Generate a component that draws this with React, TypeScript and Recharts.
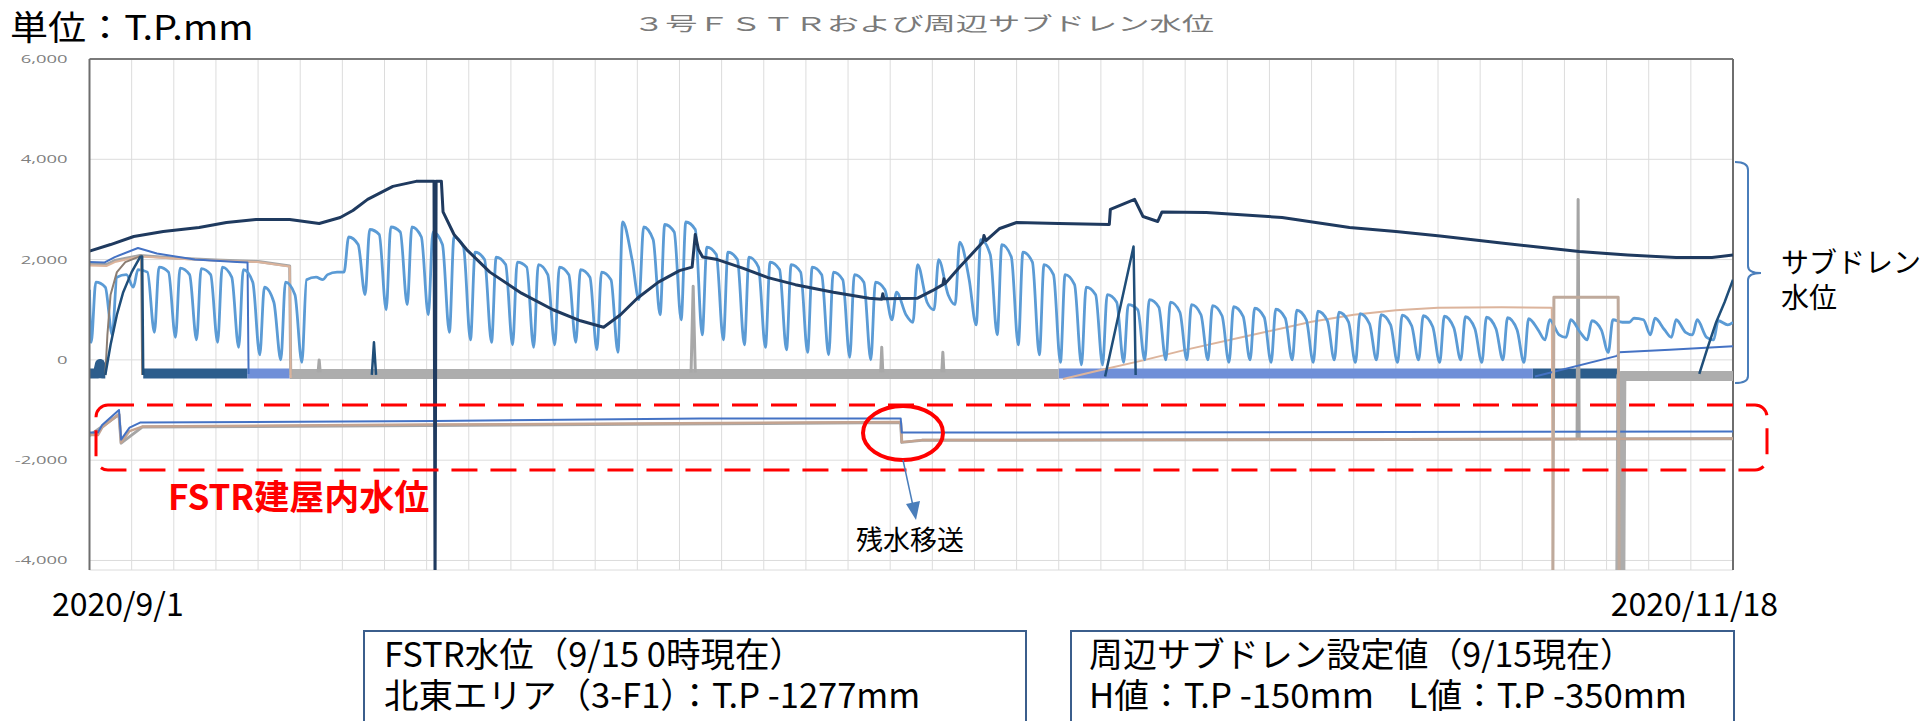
import React from 'react';
import { LineChart, Line, XAxis, YAxis, CartesianGrid, ReferenceLine } from 'recharts';

type Pt = [number, number | null];

// x = days since 2020/9/1, y = T.P. mm
const X_TICKS = Array.from({ length: 40 }, (_, i) => i * 2);
const Y_TICKS = [-4000, -2000, 0, 2000, 4000, 6000];

// top dark navy subdrain
const NAVY_TOP: Pt[] = [
  [0, 2170], [1, 2300], [2.1, 2460], [3.5, 2560], [5.2, 2640], [6.5, 2740], [7.9, 2800], [9.5, 2800],
  [10.9, 2720], [11.9, 2840], [12.5, 2980], [13.2, 3200], [14.4, 3460], [15.5, 3560], [16.35, 3560],
  [16.4, -4600], [16.45, 3560], [16.7, 3560], [16.78, 2950], [17.3, 2500], [17.9, 2200], [19.0, 1750],
  [20.5, 1330], [22.0, 1000], [23.3, 780], [24.4, 650], [25.2, 900], [26.0, 1230], [27.0, 1550],
  [28.0, 1780], [28.6, 1850], [28.75, 2500], [28.9, 2200], [29.1, 2050], [29.8, 2000], [31, 1830],
  [32.2, 1640], [33.5, 1500], [35.3, 1350], [37, 1230], [37.6, 1210], [37.65, 1320], [37.7, 1220],
  [39.3, 1230], [40.0, 1380], [40.5, 1500], [40.55, 1620], [40.6, 1520], [41.3, 1850], [42.4, 2350],
  [42.45, 2480], [42.55, 2380], [43.2, 2620], [44.0, 2740], [46, 2720], [48.4, 2700], [48.45, 3000],
  [49.6, 3200], [50.0, 2860], [50.7, 2760], [50.9, 2950], [53.0, 2940], [56.6, 2840], [59.8, 2640],
  [62, 2560], [64.1, 2470], [67, 2330], [70.7, 2160], [73, 2090], [75.3, 2040], [77, 2040], [78, 2090],
];

// light blue daily cycles: trough, peak, shoulder per day
const LB_TROUGH = [
  350, 500, 1450, 550, 450, 400, 350, 250, 100, 0, -50, 1600, 1750, 1300, 1000, 1100, 900, 550, 400, 350,
  300, 250, 300, 350, 200, 150, 1200, 900, 800, 500, 400, 300, 250, 200, 150, 100, 50, 0, 800, 750,
  1000, 1100, 700, 500, 300, 100, -50, -100, -100, -50, 0, 0, 0, 0, -50, 0, -50, 0, -50, 0,
  -50, 0, -50, 0, -50, 0, -50, 0, -50, 400, 450, 400, 150, 750, 500, 450, 500, 400,
];
const LB_PEAK = [
  1550, 1650, 1800, 1850, 1830, 1820, 1850, 1800, 1450, 1550, 1600, 1700, 2450, 2600, 2650, 2650, 2550, 2450, 2150, 2050,
  1950, 1900, 1850, 1800, 1750, 2750, 2650, 2700, 2750, 2250, 2150, 2050, 1950, 1900, 1850, 1750, 1700, 1550, 1350, 1900,
  2000, 2350, 2400, 2300, 2150, 1900, 1700, 1450, 1300, 1100, 1200, 1150, 1100, 1080, 1060, 1030, 1010, 990, 970, 950,
  920, 900, 890, 880, 870, 860, 850, 840, 820, 800, 800, 780, 800, 830, 830, 800, 800, 780,
];
const LB_SHOULDER = [
  1450, 1700, 1750, 1750, 1700, 1700, 1650, 1550, 1150, 1300, 1650, 1750, 2300, 2500, 2550, 2450, 2300, 2250, 2000, 1900,
  1850, 1700, 1700, 1650, 1600, 2000, 2400, 2550, 2600, 2100, 2000, 1850, 1800, 1750, 1700, 1600, 1550, 1400, 900, 1150,
  1300, 1600, 2100, 2050, 1950, 1700, 1500, 1300, 1150, 1000, 1050, 950, 900, 880, 870, 850, 830, 800, 780, 760,
  720, 700, 680, 660, 640, 620, 620, 600, 600, 500, 550, 600, 750, 800, 600, 550, 450, 700,
];

const MID_BLUE: Pt[] = [
  [0, 1950], [0.7, 1940], [1.2, 2050], [2.3, 2230], [3.2, 2120], [5, 2000], [7.0, 1950], [7.5, 1940], [7.55, -280],
  [7.6, null],
  [68.6, -330], [72.5, 80], [72.6, 150], [75, 200], [78, 270],
];

const GRAY_START: Pt[] = [
  [0, 1920], [0.8, 1900], [1.2, 1980], [2.4, 2080], [4, 2030], [6, 1990], [8, 1960], [9.5, 1870], [9.55, -300],
];

const PEACH: Pt[] = [
  [0, 1880], [0.8, 1870], [1.2, 1950], [2.4, 2060], [4, 2020], [6, 1980], [8, 1950], [9.5, 1860], [9.55, -360],
  [9.6, null],
  [46.2, -380], [48, -200], [50, -10], [52, 200], [55, 480], [58, 760], [60, 900], [62, 990], [64, 1040],
  [67, 1050], [69.4, 1040], [69.45, -4600],
];

const TAN_RECT: Pt[] = [[69.45, -4600], [69.5, 1250], [72.55, 1250], [72.6, -4600]];

const BROWN_START: Pt[] = [
  [0.75, -300], [0.85, 500], [1.0, 1300], [1.3, 1750], [1.7, 1950], [2.3, 2050], [2.45, 2080], [2.5, -300],
];

const NAVY_2: Pt[] = [
  [0.75, -300], [1.0, 300], [1.3, 900], [1.6, 1350], [2.0, 1750], [2.4, 2050], [2.5, 2060], [2.55, -300],
  [2.6, null],
  [13.4, -300], [13.5, 350], [13.6, -300],
  [13.7, null],
  [48.2, -330], [49.55, 2260], [49.65, -300],
  [49.7, null],
  [76.4, -280], [76.8, 250], [77.2, 750], [77.6, 1150], [78, 1600],
];

const DARK_BAND: Pt[] = [
  [0, -270], [0.4, -270], [0.5, -80], [0.6, -270], [0.75, -270], [0.8, null],
  [2.55, -270], [7.5, -270], [7.6, null],
  [68.5, -270], [72.6, -270],
];
const PERI_BAND: Pt[] = [[7.5, -270], [9.5, -270], [9.6, null], [46.0, -270], [68.5, -270]];
const GRAY_BAND: Pt[] = [[9.5, -280], [46.0, -280], [46.1, null], [72.65, -4600], [72.7, -320], [78, -320]];
const GRAY_SPIKES: Pt[] = [
  [10.85, -250], [10.9, 0], [10.95, -250], [11, null],
  [28.55, -250], [28.65, 1470], [28.75, -250], [28.8, null],
  [37.55, -250], [37.6, 250], [37.65, -250], [37.7, null],
  [40.45, -250], [40.5, 150], [40.55, -250],
];

// FSTR building water levels
const FSTR_BLUE: Pt[] = [
  [0, -1450], [0.4, -1450], [0.6, -1300], [1.4, -1000], [1.5, -1590], [1.9, -1350], [2.4, -1250],
  [16.4, -1220], [29, -1170], [38.5, -1170], [38.55, -1450], [78, -1430],
];
const FSTR_TAN: Pt[] = [
  [0, -1500], [0.4, -1500], [0.6, -1350], [1.4, -1080], [1.5, -1650], [1.9, -1420], [2.5, -1330],
  [16, -1290], [38.5, -1240], [38.55, -1640], [39.5, -1600], [78, -1570],
];
const FSTR_GRAY: Pt[] = [
  [0, -1510], [1.4, -1090], [1.5, -1660], [2.5, -1340], [38.5, -1250], [38.55, -1645], [39.5, -1605],
  [70.6, -1580], [70.65, 3200], [70.7, -1580], [78, -1575],
];

const toData = (pts: Pt[]) => pts.map(([x, y]) => ({ x, y }));

function buildLightBlue(): Pt[] {
  const out: Pt[] = [[0, 1400]];
  LB_TROUGH.forEach((t, d) => {
    out.push([d + 0.08, t], [d + 0.3, LB_PEAK[d]], [d + 0.75, LB_SHOULDER[d]]);
  });
  out.push([78, 750]);
  return out;
}

const SERIES = [
  { key: 'darkBand', pts: DARK_BAND, color: '#2c5d8c', w: 10 },
  { key: 'periBand', pts: PERI_BAND, color: '#6f8fd8', w: 10 },
  { key: 'grayBand', pts: GRAY_BAND, color: '#adadad', w: 10 },
  { key: 'graySpikes', pts: GRAY_SPIKES, color: '#a8a8a8', w: 3 },
  { key: 'fstrGray', pts: FSTR_GRAY, color: '#a5a5a5', w: 3 },
  { key: 'fstrTan', pts: FSTR_TAN, color: '#c4a491', w: 2.5 },
  { key: 'fstrBlue', pts: FSTR_BLUE, color: '#4472c4', w: 2 },
  { key: 'grayStart', pts: GRAY_START, color: '#a5a5a5', w: 3 },
  { key: 'peach', pts: PEACH, color: '#dcb49c', w: 2 },
  { key: 'midBlue', pts: MID_BLUE, color: '#4472c4', w: 2 },
  { key: 'lightBlue', pts: buildLightBlue(), color: '#5b9bd5', w: 2.8, curve: 'monotone' },
  { key: 'brown', pts: BROWN_START, color: '#8b7d72', w: 2 },
  { key: 'navy2', pts: NAVY_2, color: '#1f4e79', w: 2.5 },
  { key: 'navyTop', pts: NAVY_TOP, color: '#1f3a5f', w: 3 },
  { key: 'tanRect', pts: TAN_RECT, color: '#bfaa9c', w: 3 },
];

const FONT = "'Noto Sans CJK JP', 'Noto Sans', sans-serif";

const YTick = (props: any) => {
  const { x, y, payload } = props;
  return (
    <g transform={`translate(${x},${y}) scale(1.6,1)`}>
      <text x={0} y={0} dy={4} textAnchor="end" fill="#808080" fontSize={11.5} fontFamily="'Open Sans', sans-serif">
        {payload.value.toLocaleString('en-US')}
      </text>
    </g>
  );
};

export default function App() {
  return (
    <div style={{ position: 'absolute', left: 0, top: 0, width: 1923, height: 721, overflow: 'hidden', background: '#fff' }}>
      <LineChart width={1923} height={721} margin={{ top: 59, right: 190, bottom: 151, left: 0 }}>
        <CartesianGrid stroke="#dcdcdc" strokeWidth={1} />
        <XAxis type="number" dataKey="x" domain={[0, 78]} ticks={X_TICKS} allowDataOverflow hide />
        <YAxis
          type="number"
          domain={[-4190, 6000]}
          ticks={Y_TICKS}
          allowDataOverflow
          width={89.5}
          tickSize={0}
          tickMargin={22}
          tick={<YTick />}
          axisLine={{ stroke: '#6e6e6e', strokeWidth: 2 }}
        />
        <ReferenceLine y={6000} stroke="#7a7a7a" strokeWidth={2} />
        <ReferenceLine x={78} stroke="#6e6e6e" strokeWidth={2} />
        {SERIES.map((s) => (
          <Line
            key={s.key}
            data={toData(s.pts)}
            dataKey="y"
            type={(s as any).curve || 'linear'}
            stroke={s.color}
            strokeWidth={s.w}
            dot={false}
            activeDot={false}
            connectNulls={false}
            strokeLinejoin="round"
            isAnimationActive={false}
          />
        ))}
      </LineChart>

      {/* annotations */}
      <svg width={1923} height={721} style={{ position: 'absolute', left: 0, top: 0, pointerEvents: 'none' }}>
        <g transform="translate(10,40) scale(1.12,1)">
          <text x={0} y={0} fontSize={34} fontFamily={FONT} fill="#000">単位：T.P.mm</text>
        </g>
        <g transform="translate(633,31) scale(1.7,1)">
          <text x={0} y={0} fontSize={19} fontFamily={FONT} fill="#7a7a7a">３号ＦＳＴＲおよび周辺サブドレン水位</text>
        </g>

        {/* bracket for subdrain */}
        <path
          d="M1735,162 Q1748,162 1748,170 L1748,266 Q1748,273 1761,273 Q1748,273 1748,280 L1748,376 Q1748,383 1735,383"
          fill="none"
          stroke="#4a7ebb"
          strokeWidth={2}
        />
        <text x={1781} y={273} fontSize={28} fontFamily={FONT} fill="#000">サブドレン</text>
        <text x={1781} y={308} fontSize={28} fontFamily={FONT} fill="#000">水位</text>

        {/* FSTR dashed frame */}
        <rect x={96} y={405} width={1671} height={65} rx={12} ry={12} fill="none" stroke="#ff0000" strokeWidth={3} strokeDasharray="26 13" />
        <text x={168} y={510} fontSize={35} fontWeight={700} fontFamily={FONT} fill="#ff0000">FSTR建屋内水位</text>

        <ellipse cx={903} cy={433} rx={40} ry={27} fill="none" stroke="#ff0000" strokeWidth={4} />
        <line x1={903} y1={460} x2={913} y2={506} stroke="#4a7ebb" strokeWidth={1.5} />
        <path d="M906,504 L920,501 L916,520 Z" fill="#4a7ebb" />
        <text x={910} y={550} textAnchor="middle" fontSize={27} fontFamily={FONT} fill="#000">残水移送</text>

        <text x={52} y={616} fontSize={32} fontFamily={FONT} fill="#000">2020/9/1</text>
        <text x={1778} y={616} textAnchor="end" fontSize={32} fontFamily={FONT} fill="#000">2020/11/18</text>

        <rect x={364} y={631} width={662} height={200} fill="#fff" stroke="#3b5e8c" strokeWidth={2} />
        <text x={384} y={667} fontSize={34.5} fontFamily={FONT} fill="#000">FSTR水位（9/15 0時現在）</text>
        <text x={384} y={708} fontSize={34.5} fontFamily={FONT} fill="#000">北東エリア（3-F1）：T.P -1277mm</text>

        <rect x={1071} y={631} width={663} height={200} fill="#fff" stroke="#3b5e8c" strokeWidth={2} />
        <text x={1089} y={667} fontSize={34} fontFamily={FONT} fill="#000" textLength={545} lengthAdjust="spacingAndGlyphs">周辺サブドレン設定値（9/15現在）</text>
        <text x={1089} y={708} fontSize={34} fontFamily={FONT} fill="#000" textLength={598} lengthAdjust="spacingAndGlyphs">H値：T.P -150mm　L値：T.P -350mm</text>
      </svg>
    </div>
  );
}
